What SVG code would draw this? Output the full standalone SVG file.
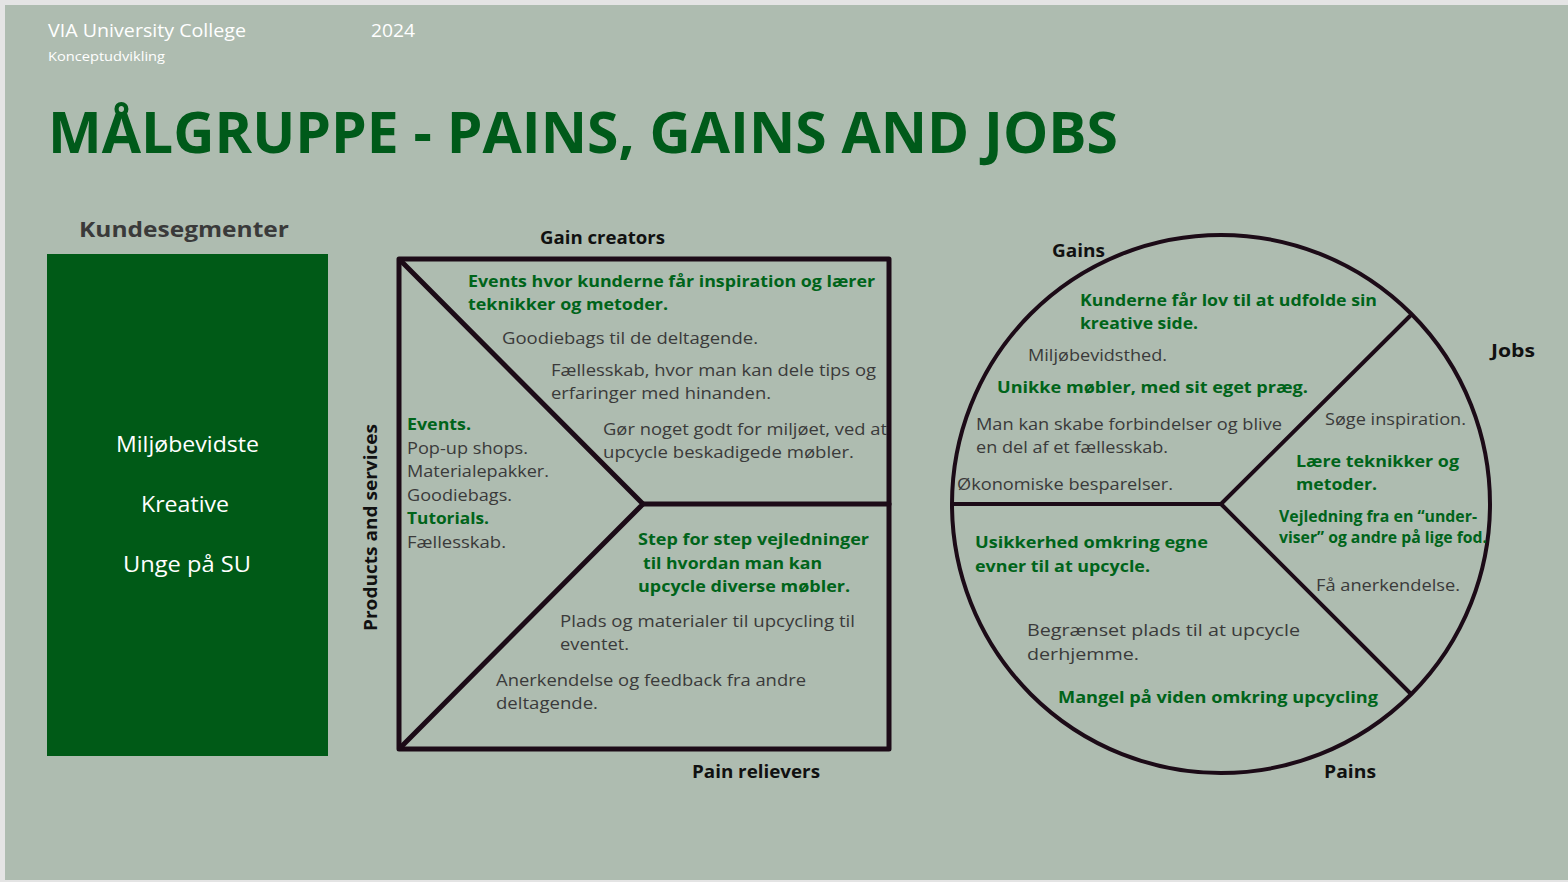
<svg xmlns="http://www.w3.org/2000/svg" width="1568" height="882" viewBox="0 0 1568 882">
<style>
text{font-family:"Open Sans","Liberation Sans",sans-serif}
.n{font-size:16.5px;fill:#3a3a3a}
.g{font-size:16px;fill:#00641a;font-weight:bold}
.lbl{font-size:17.5px;fill:#111;font-weight:bold}
.w{fill:#ffffff}
.seg{font-size:22px;fill:#ffffff}
.ln{stroke:#1c0b17;fill:none;stroke-linecap:round;stroke-linejoin:round}
</style>
<rect x="0" y="0" width="1568" height="882" fill="#e4e4e4"/>
<rect x="5" y="5" width="1563" height="875" fill="#aebcb0"/>
<g id="header">
<text class="w" x="48" y="37" font-size="17.5" textLength="198" lengthAdjust="spacingAndGlyphs">VIA University College</text>
<text class="w" x="371" y="37" font-size="17.5" textLength="44" lengthAdjust="spacingAndGlyphs">2024</text>
<text class="w" x="48" y="61" font-size="13" textLength="117" lengthAdjust="spacingAndGlyphs">Konceptudvikling</text>
<text x="48" y="153" font-size="58" font-weight="bold" fill="#005a1a" textLength="1070" lengthAdjust="spacingAndGlyphs">MÅLGRUPPE - PAINS, GAINS AND JOBS</text>
</g>
<g id="kundesegmenter">
<text x="79" y="237" font-size="22" font-weight="bold" fill="#3a3a3a" textLength="210" lengthAdjust="spacingAndGlyphs">Kundesegmenter</text>
<rect x="47" y="254" width="281" height="502" fill="#005a17"/>
<text class="seg" x="187.5" y="452" text-anchor="middle" textLength="143" lengthAdjust="spacingAndGlyphs">Miljøbevidste</text>
<text class="seg" x="185" y="512" text-anchor="middle" textLength="88" lengthAdjust="spacingAndGlyphs">Kreative</text>
<text class="seg" x="187" y="572" text-anchor="middle" textLength="128" lengthAdjust="spacingAndGlyphs">Unge på SU</text>
</g>
<g id="connectors">
<rect class="ln" x="399" y="259" width="490" height="490" stroke-width="5"/>
<polyline class="ln" points="401,261 643,504 401,747" stroke-width="5"/>
<line class="ln" x1="643" y1="504" x2="889" y2="504" stroke-width="5"/>
<circle class="ln" cx="1221" cy="504" r="269" stroke-width="4"/>
<polyline class="ln" points="953,504 1221,504 1410,316" stroke-width="4"/>
<line class="ln" x1="1221" y1="504" x2="1410" y2="693" stroke-width="4"/>
</g>
<g id="value-map-labels">
<text class="lbl" x="540" y="244" textLength="125" lengthAdjust="spacingAndGlyphs">Gain creators</text>
<text class="lbl" x="692" y="778" textLength="128" lengthAdjust="spacingAndGlyphs">Pain relievers</text>
<text class="lbl" transform="translate(377,631) rotate(-90)" x="0" y="0" textLength="207" lengthAdjust="spacingAndGlyphs">Products and services</text>
</g>
<g id="gain-creators">
<text class="g" x="468" y="287" textLength="407" lengthAdjust="spacingAndGlyphs">Events hvor kunderne får inspiration og lærer</text>
<text class="g" x="468" y="310" textLength="200" lengthAdjust="spacingAndGlyphs">teknikker og metoder.</text>
<text class="n" x="502" y="344" textLength="256" lengthAdjust="spacingAndGlyphs">Goodiebags til de deltagende.</text>
<text class="n" x="551" y="376" textLength="325" lengthAdjust="spacingAndGlyphs">Fællesskab, hvor man kan dele tips og</text>
<text class="n" x="551" y="399" textLength="220" lengthAdjust="spacingAndGlyphs">erfaringer med hinanden.</text>
<text class="n" x="603" y="435" textLength="284" lengthAdjust="spacingAndGlyphs">Gør noget godt for miljøet, ved at</text>
<text class="n" x="603" y="458" textLength="251" lengthAdjust="spacingAndGlyphs">upcycle beskadigede møbler.</text>
</g>
<g id="products-and-services">
<text class="g" x="407" y="430" textLength="64" lengthAdjust="spacingAndGlyphs">Events.</text>
<text class="n" x="407" y="454" textLength="121" lengthAdjust="spacingAndGlyphs">Pop-up shops.</text>
<text class="n" x="407" y="477" textLength="142" lengthAdjust="spacingAndGlyphs">Materialepakker.</text>
<text class="n" x="407" y="501" textLength="105" lengthAdjust="spacingAndGlyphs">Goodiebags.</text>
<text class="g" x="407" y="524" textLength="82" lengthAdjust="spacingAndGlyphs">Tutorials.</text>
<text class="n" x="407" y="548" textLength="99" lengthAdjust="spacingAndGlyphs">Fællesskab.</text>
</g>
<g id="pain-relievers">
<text class="g" x="638" y="545" textLength="231" lengthAdjust="spacingAndGlyphs">Step for step vejledninger</text>
<text class="g" x="643" y="569" textLength="179" lengthAdjust="spacingAndGlyphs">til hvordan man kan</text>
<text class="g" x="638" y="592" textLength="212" lengthAdjust="spacingAndGlyphs">upcycle diverse møbler.</text>
<text class="n" x="560" y="627" textLength="295" lengthAdjust="spacingAndGlyphs">Plads og materialer til upcycling til</text>
<text class="n" x="560" y="650" textLength="69" lengthAdjust="spacingAndGlyphs">eventet.</text>
<text class="n" x="496" y="686" textLength="310" lengthAdjust="spacingAndGlyphs">Anerkendelse og feedback fra andre</text>
<text class="n" x="496" y="709" textLength="102" lengthAdjust="spacingAndGlyphs">deltagende.</text>
</g>
<g id="profile-labels">
<text class="lbl" x="1052" y="257" textLength="53" lengthAdjust="spacingAndGlyphs">Gains</text>
<text class="lbl" x="1491" y="357" textLength="44" lengthAdjust="spacingAndGlyphs">Jobs</text>
<text class="lbl" x="1324" y="778" textLength="52" lengthAdjust="spacingAndGlyphs">Pains</text>
</g>
<g id="gains">
<text class="g" x="1080" y="306" textLength="297" lengthAdjust="spacingAndGlyphs">Kunderne får lov til at udfolde sin</text>
<text class="g" x="1080" y="329" textLength="118" lengthAdjust="spacingAndGlyphs">kreative side.</text>
<text class="n" x="1028" y="361" textLength="139" lengthAdjust="spacingAndGlyphs">Miljøbevidsthed.</text>
<text class="g" x="997" y="393" textLength="311" lengthAdjust="spacingAndGlyphs">Unikke møbler, med sit eget præg.</text>
<text class="n" x="976" y="430" textLength="306" lengthAdjust="spacingAndGlyphs">Man kan skabe forbindelser og blive</text>
<text class="n" x="976" y="453" textLength="192" lengthAdjust="spacingAndGlyphs">en del af et fællesskab.</text>
<text class="n" x="957" y="490" textLength="216" lengthAdjust="spacingAndGlyphs">Økonomiske besparelser.</text>
</g>
<g id="jobs">
<text class="n" x="1325" y="425" textLength="141" lengthAdjust="spacingAndGlyphs">Søge inspiration.</text>
<text class="g" x="1296" y="467" textLength="163" lengthAdjust="spacingAndGlyphs">Lære teknikker og</text>
<text class="g" x="1296" y="490" textLength="81" lengthAdjust="spacingAndGlyphs">metoder.</text>
<text class="g" x="1279" y="522" font-size="14" textLength="198" lengthAdjust="spacingAndGlyphs">Vejledning fra en “under-</text>
<text class="g" x="1279" y="543" font-size="14" textLength="208" lengthAdjust="spacingAndGlyphs">viser” og andre på lige fod.</text>
<text class="n" x="1316" y="591" textLength="144" lengthAdjust="spacingAndGlyphs">Få anerkendelse.</text>
</g>
<g id="pains">
<text class="g" x="975" y="548" textLength="233" lengthAdjust="spacingAndGlyphs">Usikkerhed omkring egne</text>
<text class="g" x="975" y="572" textLength="175" lengthAdjust="spacingAndGlyphs">evner til at upcycle.</text>
<text class="n" x="1027" y="636" font-size="18" textLength="273" lengthAdjust="spacingAndGlyphs">Begrænset plads til at upcycle</text>
<text class="n" x="1027" y="660" font-size="18" textLength="112" lengthAdjust="spacingAndGlyphs">derhjemme.</text>
<text class="g" x="1058" y="703" textLength="320" lengthAdjust="spacingAndGlyphs">Mangel på viden omkring upcycling</text>
</g>
</svg>
